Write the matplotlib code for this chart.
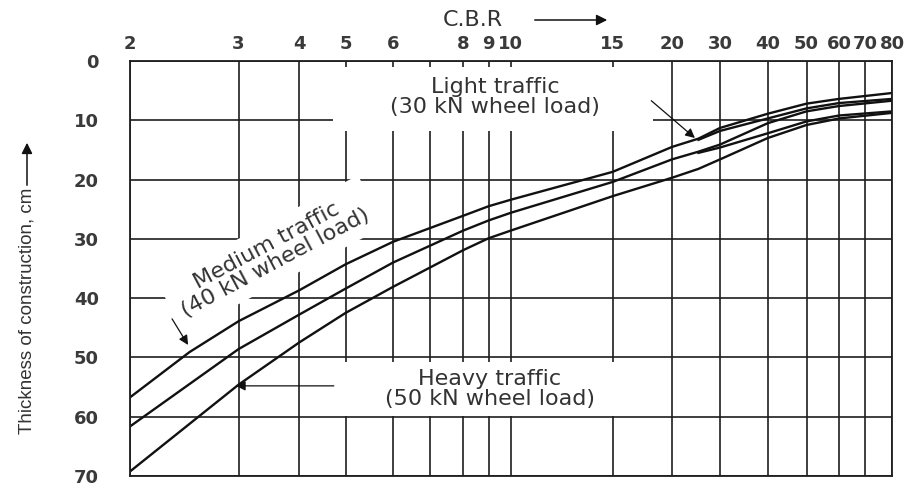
import numpy as np
import matplotlib
matplotlib.use("Agg")
import matplotlib.pyplot as plt
from matplotlib.patches import Rectangle

# C.B.R grid values and where each sits on the printed chart (pixels across)
cbr_grid = [2, 3, 4, 5, 6, 7, 8, 9, 10, 15, 20, 30, 40, 50, 60, 70, 80]
cbr_labels = ["2", "3", "4", "5", "6", "", "8", "9", "10", "15", "20",
              "30", "40", "50", "60", "70", "80"]
grid_pos = [129.5, 238.5, 299, 345.5, 393, 429.7, 463.3, 488.6, 510.9,
            612.7, 672, 720, 767.7, 806.5, 839, 864.9, 892.3]
depth_ticks = [0, 10, 20, 30, 40, 50, 60, 70]

# design curves: C.B.R -> thickness of construction (cm)
top_cbr = [2, 2.5, 3, 4, 5, 6, 8, 9, 10, 15, 20, 25, 30, 40, 50, 60, 80]
top_cm = [56.8, 49.1, 43.9, 38.7, 34.3, 30.5, 26.1, 24.5, 23.4, 18.7, 14.5,
          13.1, 11.3, 8.9, 7.2, 6.4, 5.4]
mid_cbr = [2, 3, 4, 5, 6, 8, 9, 10, 15, 20, 25, 30, 40, 50, 60, 80]
mid_cm = [61.7, 48.6, 42.8, 38.4, 34.0, 28.6, 26.9, 25.6, 20.4, 16.6, 15.3,
          14.1, 10.5, 8.5, 7.6, 6.7]
low_cbr = [2, 3, 4, 5, 6, 8, 9, 10, 15, 20, 25, 30, 40, 50, 60, 80]
low_cm = [69.3, 54.6, 47.5, 42.5, 38.1, 31.9, 29.9, 28.6, 22.8, 19.7, 18.2,
          16.6, 13.0, 10.8, 9.7, 8.75]
top_branch_cbr = [25, 30, 40, 50, 60, 80]
top_branch_cm = [13.3, 11.8, 9.7, 8.0, 7.1, 6.4]
mid_branch_cbr = [25, 30, 40, 50, 60, 80]
mid_branch_cm = [15.5, 14.6, 12.2, 10.2, 9.2, 8.5]

log_grid = np.log10(cbr_grid)


def fwd(x):
    x = np.clip(np.asarray(x, dtype=float), 1e-3, None)
    return np.interp(np.log10(x), log_grid, grid_pos)


def inv(p):
    return 10 ** np.interp(p, grid_pos, log_grid)


fig = plt.figure(figsize=(9.11, 4.9), dpi=100)
ax = fig.add_axes([0.1422, 0.0286, 0.8373, 0.847])
ax.set_xscale("function", functions=(fwd, inv))
ax.set_xlim(2, 80)
ax.set_ylim(70, 0)

ax.set_axisbelow(True)
ax.xaxis.tick_top()
ax.set_xticks(cbr_grid)
ax.set_xticklabels(cbr_labels)
ax.set_xticks([], minor=True)
ax.set_yticks(depth_ticks)
ax.tick_params(axis="both", length=0, labelsize=13, labelcolor="#3a3a3a")
ax.tick_params(axis="x", pad=6)
ax.tick_params(axis="y", pad=22)
for lab in ax.get_xticklabels() + ax.get_yticklabels():
    lab.set_fontweight("bold")
ax.grid(True, color="#1e1e1e", linewidth=1.2)
for s in ax.spines.values():
    s.set_linewidth(1.3)
    s.set_color("#1e1e1e")

# white boxes behind the horizontal labels
ax.add_patch(Rectangle((4.70, 1.0), 18.2 - 4.70, 10.8, facecolor="white",
                       edgecolor="none", zorder=1))
ax.add_patch(Rectangle((4.57, 50.7), 18.0 - 4.57, 9.1, facecolor="white",
                       edgecolor="none", zorder=1))

lw = 1.7
for xs, ys in [(top_cbr, top_cm), (mid_cbr, mid_cm), (low_cbr, low_cm),
               (top_branch_cbr, top_branch_cm), (mid_branch_cbr, mid_branch_cm)]:
    ax.plot(xs, ys, color="#111111", lw=lw, zorder=2)

txt = dict(fontsize=16, color="#333333", ha="center", va="center",
           linespacing=1.0, zorder=3)
ax.text(9.27, 6.1, "Light traffic\n(30 kN wheel load)", **txt)
ax.text(9.05, 55.3, "Heavy traffic\n(50 kN wheel load)", **txt)
ax.text(3.50, 32.6, "Medium traffic\n(40 kN wheel load)", rotation=28,
        rotation_mode="anchor",
        bbox=dict(boxstyle="square,pad=0.4", facecolor="white",
                  edgecolor="none"), **txt)

arrow = dict(arrowstyle="-|>", color="#111111", lw=0.9, mutation_scale=14)
ax.annotate("", xy=(24.7, 13.3), xytext=(17.9, 6.4), arrowprops=arrow, zorder=3)
ax.annotate("", xy=(2.50, 48.3), xytext=(2.33, 43.1), arrowprops=arrow, zorder=3)
ax.annotate("", xy=(2.94, 54.8), xytext=(4.79, 54.8), arrowprops=arrow, zorder=3)

# axis titles with their direction arrows
fig.text(473 / 911, 1 - 20 / 490, "C.B.R", fontsize=16, color="#333333",
         ha="center", va="center")
ax.annotate("", xy=(610 / 911, 1 - 20 / 490), xytext=(532 / 911, 1 - 20 / 490),
            xycoords="figure fraction", textcoords="figure fraction",
            arrowprops=dict(arrowstyle="-|>", color="#111111", lw=1.1,
                            mutation_scale=16), annotation_clip=False)
fig.text(27 / 911, 1 - 311 / 490, "Thickness of construction, cm",
         rotation=90, fontsize=13.5, color="#333333", ha="center", va="center",
         family=["Liberation Sans", "DejaVu Sans"])
ax.annotate("", xy=(27 / 911, 1 - 140 / 490), xytext=(27 / 911, 1 - 188 / 490),
            xycoords="figure fraction", textcoords="figure fraction",
            arrowprops=dict(arrowstyle="-|>", color="#111111", lw=1.1,
                            mutation_scale=16), annotation_clip=False)

fig.savefig("out.png", dpi=100)
